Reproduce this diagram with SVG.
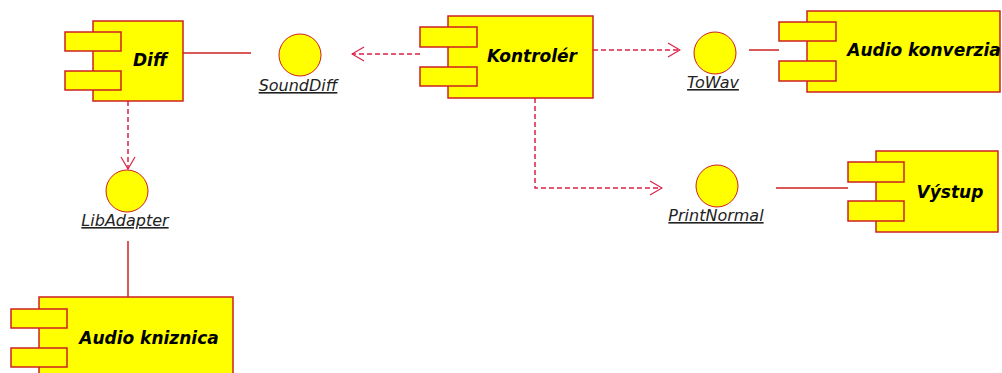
<svg xmlns="http://www.w3.org/2000/svg" width="1002" height="373" viewBox="0 0 1002 373">
<defs>
<style>
.box{fill:#ffff00;stroke:#cc2020;stroke-width:1.5}
.port{fill:#ffff00;stroke:#cc2020;stroke-width:1.5}
.iface{fill:#ffff00;stroke:#cc2020;stroke-width:1}
.name{font-family:"DejaVu Sans",sans-serif;font-weight:bold;font-style:italic;font-size:17px;fill:#000;text-anchor:middle}
.lbl{font-family:"DejaVu Sans",sans-serif;font-style:italic;font-size:16px;fill:#222;text-anchor:middle;text-decoration:underline}
.solid{stroke:#cc2020;stroke-width:1.5;fill:none}
.dash{stroke:#dd1f45;stroke-width:1.5;fill:none;stroke-dasharray:5,3}
</style>
<marker id="open" viewBox="0 0 14 16" refX="13" refY="8" markerWidth="14" markerHeight="16" markerUnits="userSpaceOnUse" orient="auto">
<path d="M1,1 L13,8 L1,15" fill="none" stroke="#dd1f45" stroke-width="1.2"/>
</marker>
</defs>
<rect width="1002" height="373" fill="#ffffff"/>
<g id="connectors">
<line class="solid" x1="183" y1="53" x2="251" y2="53"/>
<line class="dash" x1="128" y1="101" x2="128" y2="169" marker-end="url(#open)"/>
<line class="solid" x1="128" y1="241" x2="128" y2="297"/>
<line class="dash" x1="420" y1="54" x2="352" y2="54" marker-end="url(#open)"/>
<line class="dash" x1="593" y1="50" x2="680" y2="50" marker-end="url(#open)"/>
<polyline class="dash" points="535,98 535,188 662,188" marker-end="url(#open)"/>
<line class="solid" x1="749" y1="50" x2="779" y2="50"/>
<line class="solid" x1="776" y1="188" x2="848" y2="188"/>
</g>
<g id="diff">
<rect class="box" x="93" y="21" width="90" height="80"/>
<rect class="port" x="65" y="32" width="56" height="19"/>
<rect class="port" x="65" y="71" width="56" height="19"/>
<text class="name" x="150" y="66">Diff</text>
</g>
<g id="sounddiff">
<circle class="iface" cx="300" cy="55" r="21"/>
<text class="lbl" x="298" y="91">SoundDiff</text>
</g>
<g id="libadapter">
<circle class="iface" cx="127" cy="191" r="21"/>
<text class="lbl" x="125" y="226">LibAdapter</text>
</g>
<g id="audio-kniznica">
<rect class="box" x="39" y="297" width="194" height="90"/>
<rect class="port" x="11" y="309" width="56" height="19"/>
<rect class="port" x="11" y="348" width="56" height="19"/>
<text class="name" x="149" y="344">Audio kniznica</text>
</g>
<g id="kontroler">
<rect class="box" x="448" y="16" width="145" height="82"/>
<rect class="port" x="420" y="27" width="57" height="20"/>
<rect class="port" x="420" y="67" width="57" height="19"/>
<text class="name" x="532" y="62">Kontrolér</text>
</g>
<g id="towav">
<circle class="iface" cx="715" cy="53" r="21"/>
<text class="lbl" x="713" y="88">ToWav</text>
</g>
<g id="audio-konverzia">
<rect class="box" x="807" y="11" width="193" height="81"/>
<rect class="port" x="779" y="22" width="57" height="19"/>
<rect class="port" x="779" y="61" width="57" height="20"/>
<text class="name" x="924" y="56">Audio konverzia</text>
</g>
<g id="printnormal">
<circle class="iface" cx="717" cy="186" r="21"/>
<text class="lbl" x="716" y="221">PrintNormal</text>
</g>
<g id="vystup">
<rect class="box" x="876" y="151" width="122" height="81"/>
<rect class="port" x="848" y="162" width="56" height="20"/>
<rect class="port" x="848" y="201" width="56" height="20"/>
<text class="name" x="950" y="198">Výstup</text>
</g>
</svg>
